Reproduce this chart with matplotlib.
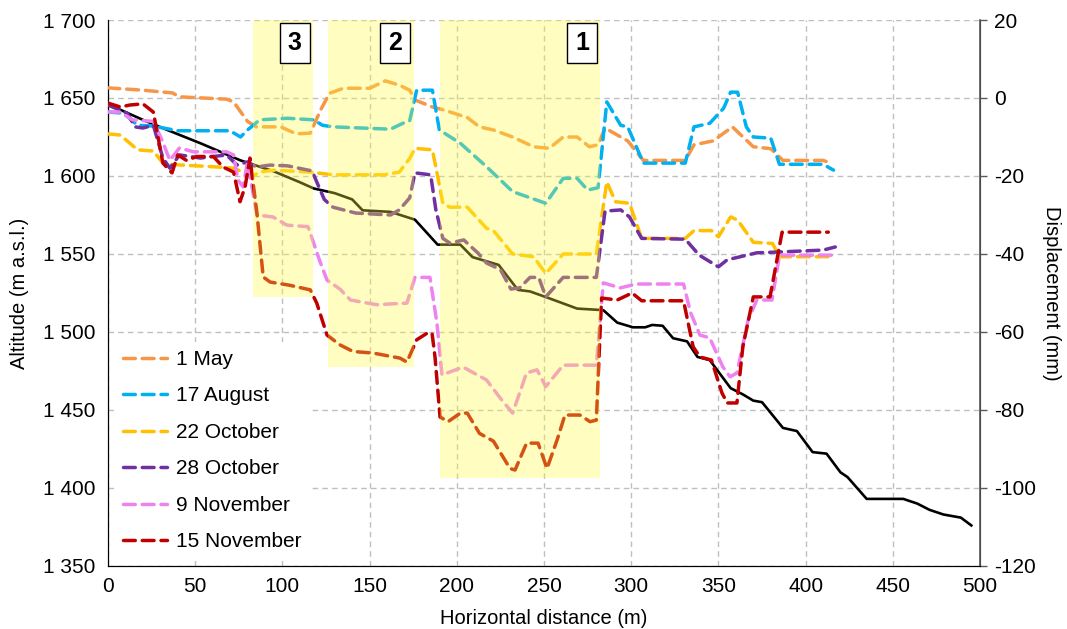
import matplotlib
matplotlib.use("Agg")
import matplotlib.pyplot as plt
from matplotlib.patches import Rectangle
from matplotlib.ticker import FuncFormatter

plt.rcParams['font.family'] = ['Liberation Sans', 'DejaVu Sans']

# terrain profile (altitude, m a.s.l.)
prof_x = [0, 10, 20, 34, 53, 76, 95, 110, 118, 130, 140, 146, 162, 176, 189, 202, 209, 224,
          235, 242, 252, 269, 284, 292, 301, 308, 312, 318, 324, 332, 338, 345, 357, 364, 370,
          375, 387, 395, 404, 412, 420, 424, 435, 443, 456, 464, 471, 479, 489, 495]
prof_alt = [1646, 1641, 1636, 1629.5, 1621, 1610, 1603, 1596, 1592, 1589, 1585, 1578, 1577,
            1572, 1556, 1556, 1548, 1543, 1527, 1526, 1522, 1515, 1514, 1506, 1503, 1503,
            1504.5, 1504, 1496, 1494, 1484, 1482, 1464, 1460, 1456, 1455, 1438.5, 1436.5,
            1423, 1422, 1410, 1407, 1393, 1393, 1393, 1390, 1386, 1383, 1381, 1376]

# displacement profiles (mm)
may_x = [0, 20, 37, 41, 68, 72, 80, 85, 99, 108, 116, 122, 127, 135, 150, 159, 167, 173, 176,
         186, 192, 206, 213, 221, 232, 244, 253, 261, 269, 276, 281, 285, 294, 298, 307, 331,
         336, 347, 358, 370, 380, 387, 410, 415]
may_d = [2.6, 2.0, 1.3, 0.3, -0.3, -1, -6, -7.4, -7.4, -9.2, -9, -3, 1.2, 2.5, 2.5, 4.4, 3.3,
         2, -0.5, -2.3, -3, -5, -7.4, -8.2, -10, -12.5, -12.9, -10, -10, -12.5, -12, -7.7, -10,
         -11, -16, -16, -12, -11, -7.4, -12.5, -13, -16, -16, -16.8]

aug_x = [0, 9, 17, 26, 40, 70, 76, 80, 87, 103, 118, 123, 129, 162, 169, 173, 177, 186, 190,
         202, 217, 232, 251, 261, 269, 275, 281, 286, 294, 298, 307, 331, 336, 345, 353, 357,
         361, 366, 370, 380, 385, 410, 416]
aug_d = [-3.6, -3.9, -7, -7.2, -8.4, -8.4, -10, -8.2, -5.6, -5.2, -5.6, -7, -7.4, -8, -6.5,
         -5.8, 2, 2, -8.2, -11.6, -17.6, -24, -27, -20.6, -20.6, -23.6, -23, -1, -7, -7.4,
         -16.7, -16.7, -7.4, -6.5, -2.6, 1.5, 1.5, -7.4, -10, -10.3, -17, -17, -18.5]

oct22_x = [0, 7, 17, 26, 31, 34, 51, 63, 72, 83, 87, 95, 116, 129, 158, 167, 173, 176, 186,
           189, 192, 196, 206, 217, 221, 232, 244, 251, 261, 280, 286, 291, 299, 306, 331, 336,
           346, 350, 357, 361, 370, 381, 385, 414]
oct22_d = [-9.2, -9.5, -13.3, -13.6, -16.4, -17, -17.4, -17.7, -18, -20, -19, -18.5, -19,
           -19.7, -19.7, -19, -15.5, -12.9, -13.3, -20, -27, -28, -28, -33.4, -34, -40, -40.7,
           -45, -40, -40, -21.5, -26.6, -27, -36, -36, -34, -34, -35.6, -30.5, -31.3, -37,
           -37.3, -40.7, -40.7]

oct28_x = [0, 11, 15.5, 20, 26, 31.5, 35.5, 41, 53, 68, 74, 80, 85, 93, 103, 117, 124, 129,
           142, 162, 167, 173, 176, 185, 188, 192, 196, 204, 212, 217, 225, 231, 236, 242, 247,
           251, 261, 280, 285, 294, 299, 306, 331, 339, 350, 355, 372, 384, 410, 417]
oct28_d = [-1.8, -3.9, -7.4, -7.7, -7, -15.4, -18, -14.6, -15.4, -14.6, -17.2, -16.4, -17.7,
           -17.2, -17.4, -18.7, -26, -28, -29.5, -30, -28.7, -25.6, -19.2, -19.7, -28.7, -36,
           -37.2, -36.4, -39.7, -42.3, -44, -49, -48.7, -46, -46, -51, -46, -46, -29, -28.7,
           -30.5, -36, -36.2, -40.3, -43.3, -41.5, -39.7, -39.5, -39, -38.2]

nov9_x = [0, 7, 14, 26, 31, 35.5, 41, 49, 68, 72, 74.5, 77.5, 80, 82.5, 85.4, 94.6, 102.6,
          114.7, 121.6, 125.6, 133, 139, 154, 171.4, 176, 184.6, 188.6, 191.5, 203.6, 217,
          225, 232, 240, 246, 251, 261, 280, 284, 293.6, 303, 330, 334, 339.4, 345, 352.6,
          356.7, 360.6, 367, 372, 380.7, 385, 416]
nov9_d = [-3.6, -3.6, -5.6, -6, -10.8, -16, -12.8, -13.8, -13.8, -14.6, -21, -22.8, -16.4,
          -22.8, -30, -30.5, -32.6, -33, -42, -46.7, -49, -51.8, -53, -52.6, -46, -46, -57.7,
          -71, -69, -72.3, -77, -80.8, -70.5, -69.7, -74, -68.5, -68.5, -47.4, -48.7, -47.7,
          -47.7, -55, -60.8, -61.5, -69, -71.5, -70.5, -57, -51.8, -51.8, -40.3, -40.3]

nov15_x = [0, 7, 12.6, 20, 26, 28.7, 31.5, 36.7, 40, 45, 51, 60.4, 66, 72, 75.7, 78.6, 81.4,
           83, 85.4, 89, 93, 104, 116, 119.7, 125.6, 133, 140.5, 152, 167.4, 171.4, 177, 183,
           185.8, 187.5, 190.4, 195, 202, 206, 213, 221, 230.5, 233.4, 240, 246.6, 251.7,
           257.5, 262, 270.6, 276.4, 280, 283, 292, 300.5, 306, 330, 335.5, 339.4, 346, 352,
           355, 360.6, 364, 370, 379.6, 386.5, 413]
nov15_d = [-1.3, -2.3, -1.8, -1.5, -3.6, -10, -16.7, -19.2, -14.6, -16, -15, -15, -17.7, -19,
           -26.6, -22.8, -15.4, -21, -29.5, -45.9, -47.2, -48, -49.2, -52.6, -60.8, -63.3, -65,
           -65.4, -66.7, -67.7, -62, -60.3, -60.3, -66.4, -81.8, -83, -80.8, -80.8, -86, -88,
           -95, -95.4, -88.5, -88.5, -95, -87.7, -81.3, -81.3, -83, -82.6, -51.3, -51.8, -50,
           -52, -52, -63.8, -66.4, -67.2, -75.6, -78.2, -78.2, -63.8, -51, -51, -34.4, -34.4]

series = [
    ("1 May", may_x, may_d, "#F79646"),
    ("17 August", aug_x, aug_d, "#00B0F0"),
    ("22 October", oct22_x, oct22_d, "#FFC000"),
    ("28 October", oct28_x, oct28_d, "#7030A0"),
    ("9 November", nov9_x, nov9_d, "#EE82EE"),
    ("15 November", nov15_x, nov15_d, "#C00000"),
]

# unstable zones: label, start, end, lower edge (mm)
zone_labels = ["3", "2", "1"]
zone_start = [83, 126, 190.5]
zone_end = [117.5, 175.5, 282]
zone_bottom = [-51, -69, -97.4]
zone_label_x = [107, 164.6, 271.8]

fs = 15

fig = plt.figure(figsize=(10.67, 6.29), dpi=100)
ax = fig.add_axes([0.1012, 0.1002, 0.8173, 0.8680])
ax2 = ax.twinx()

ax.plot(prof_x, prof_alt, color="black", lw=1.9, zorder=3)
ax.set_xlim(0, 500)
ax.set_ylim(1350, 1700)
ax.set_yticks(range(1350, 1701, 50))
ax.set_xticks(range(0, 501, 50))
ax.yaxis.set_major_formatter(FuncFormatter(lambda v, p: f"{int(v):,}".replace(",", " ")))
ax.grid(True, color="#BFBFBF", linestyle=(0, (4, 3)), lw=1.0)
ax.tick_params(axis="both", labelsize=fs, length=0, pad=8)
ax.tick_params(axis="y", pad=9)
ax.set_ylabel("Altitude (m a.s.l.)", fontsize=fs - 0.5, labelpad=10)
ax.set_xlabel("Horizontal distance (m)", fontsize=fs - 0.5, labelpad=9)

for name, xs, ds, col in series:
    ax2.plot(xs, ds, color=col, lw=2.5, linestyle=(0, (3.4, 2.0)),
             dash_capstyle="round", label=name, zorder=3)

ax2.set_ylim(-120, 20)
ax2.set_yticks(range(-120, 21, 20))
ax2.yaxis.set_major_formatter(FuncFormatter(lambda v, p: f"{int(v)}".replace("\u2212", "-")))
ax2.tick_params(axis="y", labelsize=fs, length=5, width=1, color="#595959", pad=5)
ax2.set_ylabel("Displacement (mm)", fontsize=fs - 0.5, rotation=270, labelpad=18)

# translucent yellow bands drawn over the profiles
for lab, x0, x1, yb, xl in zip(zone_labels, zone_start, zone_end, zone_bottom, zone_label_x):
    ax2.add_patch(Rectangle((x0, yb), x1 - x0, 20 - yb, facecolor=(1.0, 0.98, 0.24),
                            alpha=0.33, edgecolor="none", zorder=5))
    ax2.text(xl, 14.1, lab, ha="center", va="center", fontsize=18, fontweight="bold",
             zorder=7, bbox=dict(boxstyle="square,pad=0.32", facecolor="white",
                                 edgecolor="black", lw=1.0))

for sp in ("top",):
    ax.spines[sp].set_visible(False)
    ax2.spines[sp].set_visible(False)
ax.spines["left"].set_color("black")
ax.spines["bottom"].set_color("black")
ax2.spines["right"].set_color("#595959")
ax2.spines["right"].set_linewidth(1.2)

leg = ax2.legend(loc="lower left", bbox_to_anchor=(0.0, 0.0), fontsize=fs, frameon=True,
                 framealpha=1.0, edgecolor="none", fancybox=False, handlelength=2.15,
                 labelspacing=0.84, borderaxespad=0.3, handletextpad=0.4)
leg.set_zorder(8)

fig.savefig("out.png", dpi=100)
